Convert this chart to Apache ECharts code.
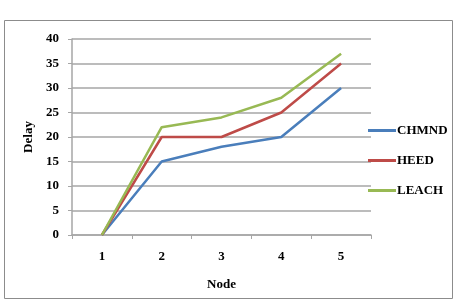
<!DOCTYPE html>
<html><head><meta charset="utf-8">
<script src="https://cdn.jsdelivr.net/npm/echarts@6/dist/echarts.min.js"></script>
<style>html,body{margin:0;padding:0;background:#fff}#c{width:460px;height:308px}</style>
</head><body><div id="c"></div>
<script>
const categories = ['1','2','3','4','5'];
const chmnd = [0, 15, 18, 20, 30];
const heed = [0, 20, 20, 25, 35];
const leach = [0, 22, 24, 28, 37];
const seriesNames = ['CHMND','HEED','LEACH'];
const colors = ['#4a7ebb','#be4b48','#98b954'];
const font = 'Liberation Serif';
const chart = echarts.init(document.getElementById('c'));
const mk = (name, data, color) => ({
  name, type:'line', data, symbol:'none', color,
  lineStyle:{width:2.5,color}
});
chart.setOption({
  animation:false,
  graphic:[{type:'rect',shape:{x:4.5,y:20.5,width:448,height:278},style:{fill:'none',stroke:'#8c8c8c',lineWidth:1}}],
  grid:{left:72,right:89,top:39,bottom:73},
  legend:{orient:'vertical',left:363,top:119,itemGap:17,itemWidth:28,itemHeight:3,icon:'rect',
    textStyle:{fontFamily:font,fontWeight:'bold',fontSize:13,color:'#000',padding:[0,0,0,-4]},
    data:seriesNames},
  xAxis:{type:'category',data:categories,boundaryGap:true,name:'Node',nameLocation:'middle',nameGap:43,
    nameTextStyle:{fontFamily:font,fontWeight:'bold',fontSize:13,color:'#000'},
    axisLine:{lineStyle:{color:'#a6a6a6',width:1.5}},
    axisTick:{show:true,length:4,lineStyle:{color:'#a6a6a6'}},
    axisLabel:{fontFamily:font,fontWeight:'bold',fontSize:13,color:'#000',margin:15}},
  yAxis:{type:'value',min:0,max:40,interval:5,name:'Delay',nameLocation:'middle',nameGap:37,
    nameTextStyle:{fontFamily:font,fontWeight:'bold',fontSize:13,color:'#000'},
    axisLine:{show:true,lineStyle:{color:'#a6a6a6',width:1.5}},
    axisTick:{show:true,length:4,lineStyle:{color:'#a6a6a6'}},
    splitLine:{lineStyle:{color:'#a6a6a6',width:1.5}},
    axisLabel:{fontFamily:font,fontWeight:'bold',fontSize:13,color:'#000',margin:13}},
  series:[mk(seriesNames[0],chmnd,colors[0]),mk(seriesNames[1],heed,colors[1]),mk(seriesNames[2],leach,colors[2])]
});
</script></body></html>
